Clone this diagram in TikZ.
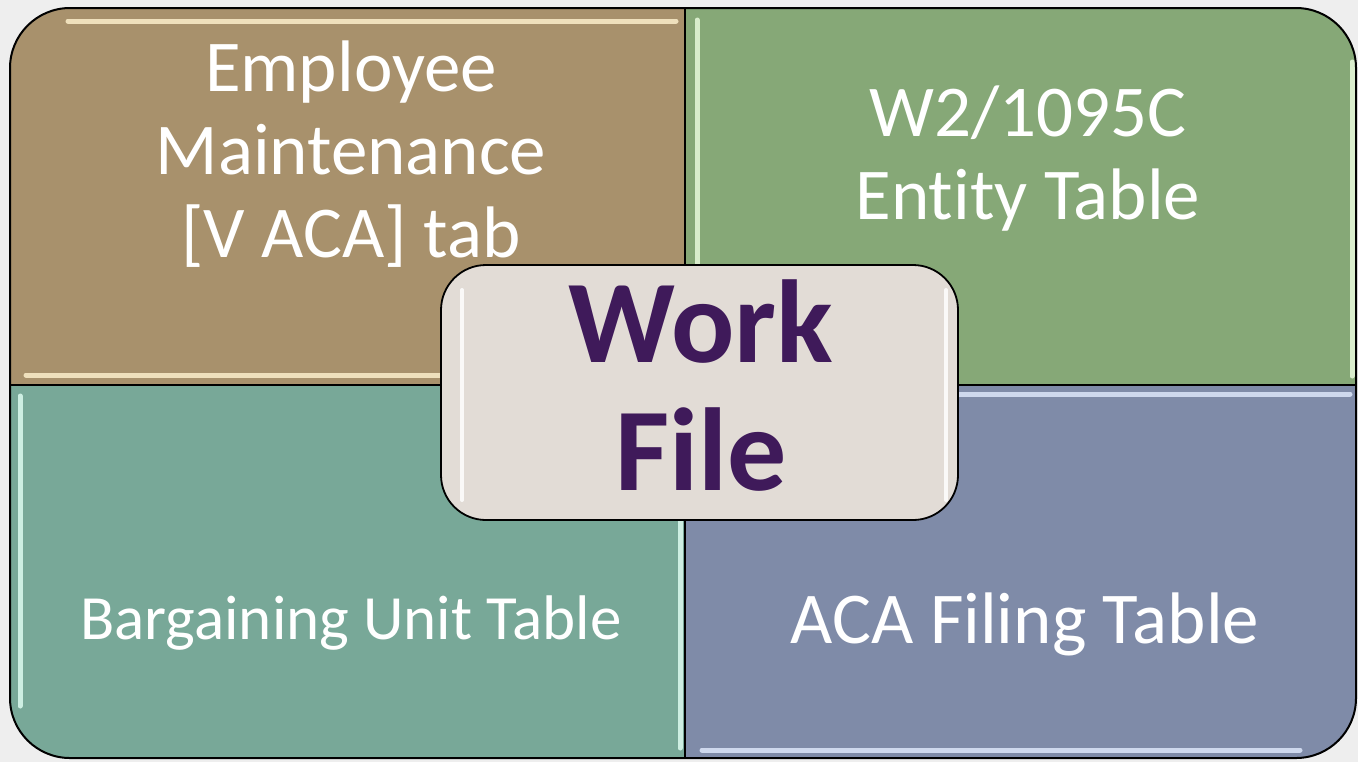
\documentclass[tikz,border=0pt]{standalone}
\usepackage{fontspec}
\setmainfont{Carlito}[Ligatures=NoCommon]

\definecolor{paper}{HTML}{EEEEEE}
\definecolor{empbrown}{HTML}{A8916C}
\definecolor{entgreen}{HTML}{86A877}
\definecolor{bargteal}{HTML}{78A898}
\definecolor{filingblue}{HTML}{7F8BA8}
\definecolor{workgray}{HTML}{E2DCD6}
\definecolor{workpurple}{HTML}{3F1A5A}
\definecolor{glossbrown}{HTML}{FCEFCB}
\definecolor{glossgreen}{HTML}{E8FADC}
\definecolor{glossteal}{HTML}{DDFBF0}
\definecolor{glossblue}{HTML}{DCE6FA}

\tikzset{
  quadtext/.style={text=white, align=center, inner sep=0pt, font=\fontsize{36.5}{41.5}\selectfont},
  gloss/.style={line width=2.5pt, line cap=round, opacity=0.85},
  workbox/.style={draw=black, line width=0.9pt, fill=workgray, rounded corners=22.5pt,
    minimum width=258.5pt, minimum height=127.5pt, inner sep=0pt},
  worktext/.style={text=workpurple, align=center, inner sep=0pt,
    font=\bfseries\fontsize{59}{64}\selectfont}
}

\begin{document}
\begin{tikzpicture}[x=0.5pt,y=-0.5pt]
\useasboundingbox (0,0) rectangle (1358,762);
\fill[paper] (0,0) rectangle (1358,762);

% four tables inside one rounded block
\begin{scope}
\clip[rounded corners=30pt] (10,8) rectangle (1356,758);
\fill[empbrown] (10,8) rectangle (685,385);
\fill[entgreen] (685,8) rectangle (1356,385);
\fill[bargteal] (10,385) rectangle (685,758);
\fill[filingblue] (685,385) rectangle (1356,758);
% glossy edges
\draw[gloss, glossbrown] (68,21) -- (676,21);
\draw[gloss, glossbrown] (26,375) -- (676,375);
\draw[gloss, glossgreen] (697,20) -- (697,376);
\draw[gloss, glossgreen] (1352,62) -- (1352,376);
\draw[gloss, glossteal] (20,396) -- (20,706);
\draw[gloss, glossteal] (680,396) -- (680,748);
\draw[gloss, glossblue] (694,394) -- (1350,394);
\draw[gloss, glossblue] (702,750) -- (1300,750);
% dividers
\draw[line width=1pt] (685,8) -- (685,758);
\draw[line width=1pt] (10,385) -- (1356,385);
\end{scope}
\draw[line width=1pt, rounded corners=30pt] (10,8) rectangle (1356,758);

% table names
\node[quadtext] (employee) at (351,154) {Employee\\Maintenance\\{[V ACA]} tab};
\node[quadtext] (entity) at (1028,159) {W2/1095C\\Entity Table};
\node[quadtext, font=\fontsize{31.5}{36}\selectfont, anchor=base] (bargaining) at (351,639) {Bargaining Unit Table};
\node[quadtext, anchor=base] (filing) at (1025,643) {ACA Filing Table};

% work file in the middle
\node[workbox] (work) at (699.5,392.5) {};
\draw[gloss, color=white, line width=2pt] (462,290) -- (462,500);
\draw[gloss, color=white, line width=2pt] (946,290) -- (946,500);
\node[worktext] (worklabel) at (701,386) {Work\\File};
\end{tikzpicture}
\end{document}
